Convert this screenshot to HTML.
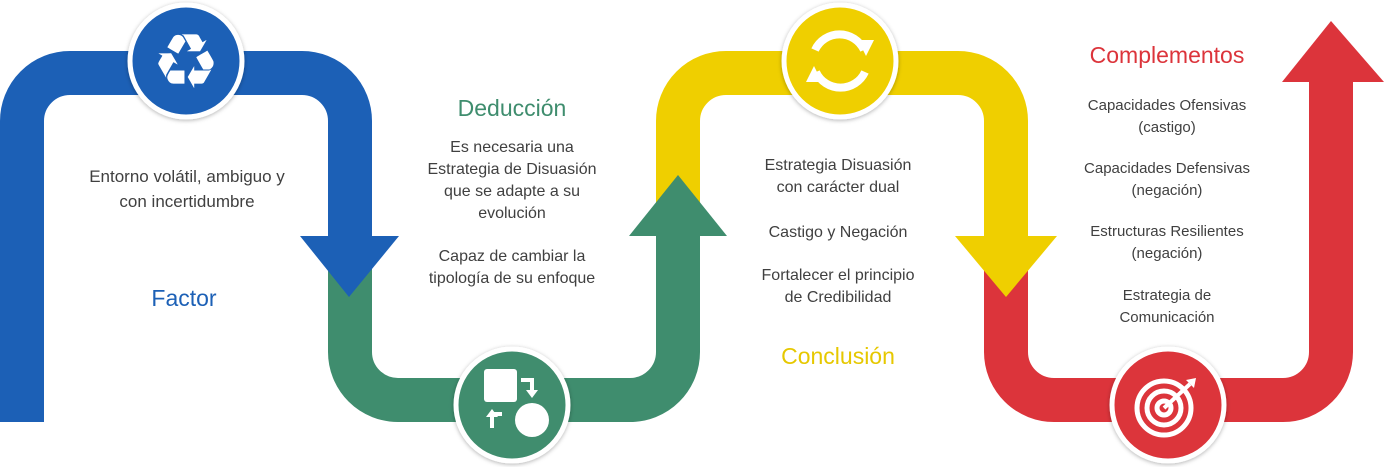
<!DOCTYPE html>
<html><head><meta charset="utf-8"><style>
body{margin:0;background:#fff;width:1384px;height:467px;overflow:hidden;position:relative;font-family:"Liberation Sans",sans-serif}
.t{position:absolute;text-align:center;color:#404040;font-size:16px;line-height:22px;transform:translateX(-50%);white-space:nowrap}
.h{position:absolute;text-align:center;font-size:23px;transform:translateX(-50%);white-space:nowrap}
</style></head><body>
<svg width="1384" height="467" style="position:absolute;left:0;top:0">
<defs><filter id="s" x="-20%" y="-20%" width="140%" height="140%"><feDropShadow dx="0" dy="1" stdDeviation="2" flood-color="#000" flood-opacity="0.3"/></filter></defs>
<g fill="none" stroke-width="44" stroke-linecap="butt">
<path d="M1006,240 V352 A48,48 0 0 0 1054,400 H1283 A48,48 0 0 0 1331,352 V80" stroke="#dc343b"/>
<path d="M678,250 V121 A48,48 0 0 1 726,73 H958 A48,48 0 0 1 1006,121 V240" stroke="#efcf00"/>
<path d="M350,240 V352 A48,48 0 0 0 398,400 H630 A48,48 0 0 0 678,352 V234" stroke="#3f8d6e"/>
<path d="M22,422 V121 A48,48 0 0 1 70,73 H302 A48,48 0 0 1 350,121 V240" stroke="#1c60b6"/>
</g>
<polygon points="1282,82 1384,82 1331,21" fill="#dc343b"/>
<polygon points="955,236 1057,236 1006,297" fill="#efcf00"/>
<polygon points="629,236 727,236 678,175" fill="#3f8d6e"/>
<polygon points="300,236 399,236 349,297" fill="#1c60b6"/>
<g filter="url(#s)" stroke="#fff" stroke-width="5">
<circle cx="186" cy="61" r="56" fill="#1c60b6"/>
<circle cx="840" cy="61" r="56" fill="#efcf00"/>
<circle cx="512" cy="405" r="56" fill="#3f8d6e"/>
<circle cx="1168" cy="405" r="56" fill="#dc343b"/>
</g>
<text x="186" y="88" font-size="76" fill="#fff" text-anchor="middle" font-family="DejaVu Sans">♻</text>
<g fill="none" stroke="#fff" stroke-width="8">
<path d="M815,50 A27,27 0 0 1 864,50"/><path d="M865,72 A27,27 0 0 1 816,72"/>
</g>
<polygon points="858,40 874,40 866,56" fill="#fff"/><polygon points="822,82 806,82 814,66" fill="#fff"/>
<rect x="484" y="369" width="33" height="33" rx="3" fill="#fff"/>
<circle cx="532" cy="420" r="17" fill="#fff"/>
<path d="M521,380 H532 V392 M492,428 V414 H502" stroke="#fff" stroke-width="4" fill="none"/>
<polygon points="526,390 538,390 532,398" fill="#fff"/><polygon points="486,417 498,417 492,409" fill="#fff"/>
<g fill="none" stroke="#fff" stroke-width="5">
<circle cx="1164" cy="408" r="27"/><circle cx="1164" cy="408" r="17"/><circle cx="1164" cy="408" r="7"/>
</g>
<path d="M1164,408 L1190,384" stroke="#fff" stroke-width="4"/>
<polygon points="1186,380 1196,378 1194,388" fill="#fff"/>
</svg>
<div class="t" style="left:187px;top:164px;font-size:17px;line-height:25px">Entorno volátil, ambiguo y<br>con incertidumbre</div>
<div class="h" style="left:184px;top:285px;color:#1c60b6">Factor</div>
<div class="h" style="left:512px;top:95px;color:#3f8d6e">Deducción</div>
<div class="t" style="left:512px;top:137px">Es necesaria una<br>Estrategia de Disuasión<br>que se adapte a su<br>evolución</div>
<div class="t" style="left:512px;top:246px">Capaz de cambiar la<br>tipología de su enfoque</div>
<div class="t" style="left:838px;top:155px">Estrategia Disuasión<br>con carácter dual</div>
<div class="t" style="left:838px;top:222px">Castigo y Negación</div>
<div class="t" style="left:838px;top:265px">Fortalecer el principio<br>de Credibilidad</div>
<div class="h" style="left:838px;top:343px;color:#e6c800">Conclusión</div>
<div class="h" style="left:1167px;top:42px;color:#dc343b">Complementos</div>
<div class="t" style="left:1167px;top:95px;font-size:15px;line-height:22px">Capacidades Ofensivas<br>(castigo)</div>
<div class="t" style="left:1167px;top:158px;font-size:15px;line-height:22px">Capacidades Defensivas<br>(negación)</div>
<div class="t" style="left:1167px;top:221px;font-size:15px;line-height:22px">Estructuras Resilientes<br>(negación)</div>
<div class="t" style="left:1167px;top:285px;font-size:15px;line-height:22px">Estrategia de<br>Comunicación</div>
</body></html>
